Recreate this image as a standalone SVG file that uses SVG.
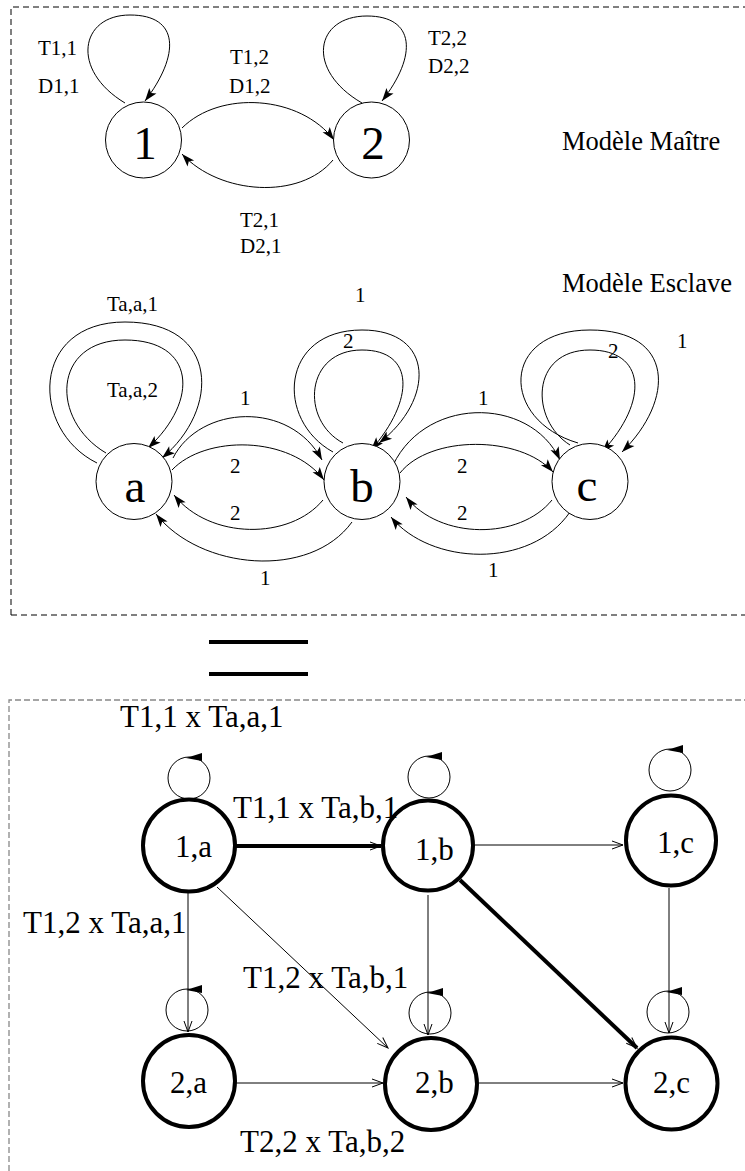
<svg xmlns="http://www.w3.org/2000/svg" width="745" height="1171" viewBox="0 0 745 1171">
<style>
text{font-family:"Liberation Serif","Times New Roman",serif;fill:#000}
.s{font-size:21px}
.m{font-size:26.5px}
.big{font-size:47px;text-anchor:middle}
.p{font-size:31px}
.node{fill:#fff;stroke:#000;stroke-width:1}
.pnode{fill:#fff;stroke:#000;stroke-width:4}
.loop{fill:none;stroke:#000;stroke-width:1}
.e{fill:none;stroke:#000;stroke-width:1;marker-end:url(#ah)}
.pe{fill:none;stroke:#000;stroke-width:1;marker-end:url(#oh)}
.pt{fill:none;stroke:#000;stroke-width:4;marker-end:url(#oh)}
</style>
<defs>
<marker id="ah" markerUnits="userSpaceOnUse" markerWidth="14" markerHeight="10" refX="13" refY="4.5" orient="auto" overflow="visible">
<path d="M0,0 L13,4.5 L0,9 L3,4.5 z" fill="#000"/>
</marker>
<marker id="oh" markerUnits="userSpaceOnUse" markerWidth="12" markerHeight="10" refX="11" refY="4" orient="auto" overflow="visible">
<path d="M0,0 L11,4 L0,8" fill="none" stroke="#000" stroke-width="1"/>
</marker>
<path id="flag" d="M-3,1 L13,-4 L13,4 z" fill="#000"/>
</defs>
<rect width="745" height="1171" fill="#fff"/>

<g id="frames">
<path d="M11,615 L11,7 L745,7 M11,615 L745,615" fill="none" stroke="#000" stroke-width="1" stroke-dasharray="6,4"/>
<path d="M9,1171 L9,700 L745,700" fill="none" stroke="#888" stroke-width="1.3" stroke-dasharray="6,3"/>
</g>

<g id="equals">
<line x1="209" y1="642" x2="308" y2="642" stroke="#000" stroke-width="4"/>
<line x1="209" y1="674" x2="308" y2="674" stroke="#000" stroke-width="4"/>
</g>

<g id="titles">
<text class="m" x="562" y="150">Modèle Maître</text>
<text class="m" x="562" y="292">Modèle Esclave</text>
</g>

<!-- Master model -->
<g id="connectors-master">
<path class="e" d="M125,103 C70,70 80,15 130,15 C180,15 180,55 145,101"/>
<path class="e" d="M362,103 C305,70 315,16 367,16 C415,16 418,55 382,101"/>
<path class="e" d="M182,128 C220,90 300,95 334,140"/>
<path class="e" d="M333,160 C300,200 220,195 182,154"/>
</g>
<g id="m-node-1"><circle class="node" cx="143.5" cy="140" r="38"/><text class="big" x="145" y="159">1</text></g>
<g id="m-node-2"><circle class="node" cx="371.5" cy="140" r="38"/><text class="big" x="373" y="159">2</text></g>
<g id="labels-master">
<text class="s" x="38" y="55">T1,1</text>
<text class="s" x="38" y="93">D1,1</text>
<text class="s" x="230" y="64">T1,2</text>
<text class="s" x="229" y="93">D1,2</text>
<text class="s" x="240" y="227">T2,1</text>
<text class="s" x="240" y="253">D2,1</text>
<text class="s" x="428" y="45">T2,2</text>
<text class="s" x="428" y="73">D2,2</text>
</g>

<!-- Slave model -->
<g id="connectors-slave">
<path class="e" d="M97,463 C30,430 30,322 125,322 C220,322 220,410 162,458"/>
<path class="e" d="M106,453 C50,420 52,340 125,340 C195,340 200,400 148,448"/>
<path class="e" d="M173,458 C200,405 290,400 322,460"/>
<path class="e" d="M172,470 C205,435 290,435 324,480"/>
<path class="e" d="M323,500 C290,540 210,540 174,495"/>
<path class="e" d="M352,522 C310,580 200,570 156,514"/>
<path class="e" d="M333,452 C275,420 280,330 362,330 C435,330 435,400 379,443"/>
<path class="e" d="M343,443 C300,420 305,350 362,350 C415,350 415,400 371,450"/>
<path class="e" d="M390,472 C420,395 530,395 560,460"/>
<path class="e" d="M400,473 C430,435 520,435 553,472"/>
<path class="e" d="M552,500 C520,540 440,540 406,497"/>
<path class="e" d="M570,512 C530,570 430,565 391,517"/>
<path class="e" d="M578,443 C500,420 500,330 590,330 C675,330 675,400 622,452"/>
<path class="e" d="M570,445 C530,420 530,350 590,350 C645,350 650,400 602,452"/>
</g>
<g id="s-node-a"><circle class="node" cx="134" cy="481.5" r="38"/><text class="big" x="135" y="502">a</text></g>
<g id="s-node-b"><circle class="node" cx="362" cy="481.5" r="38"/><text class="big" x="362" y="502">b</text></g>
<g id="s-node-c"><circle class="node" cx="590" cy="481.5" r="38"/><text class="big" x="587" y="501">c</text></g>
<g id="labels-slave">
<text class="s" x="107" y="311">Ta,a,1</text>
<text class="s" x="107" y="397">Ta,a,2</text>
<text class="s" x="240" y="405">1</text>
<text class="s" x="230" y="473">2</text>
<text class="s" x="230" y="520">2</text>
<text class="s" x="260" y="585">1</text>
<text class="s" x="355" y="302">1</text>
<text class="s" x="343" y="348">2</text>
<text class="s" x="478" y="405">1</text>
<text class="s" x="457" y="473">2</text>
<text class="s" x="457" y="520">2</text>
<text class="s" x="488" y="577">1</text>
<text class="s" x="608" y="358">2</text>
<text class="s" x="677" y="348">1</text>
</g>

<!-- Product model -->
<g id="connectors-product">
<line class="pt" x1="235" y1="846" x2="381" y2="846"/>
<line class="pe" x1="475" y1="845" x2="623" y2="845"/>
<line class="pe" x1="188" y1="893" x2="188" y2="1032"/>
<line class="pe" x1="217" y1="887" x2="388" y2="1048"/>
<line class="pe" x1="428" y1="895" x2="428" y2="1035"/>
<line class="pt" x1="460" y1="880" x2="637" y2="1048"/>
<line class="pe" x1="669" y1="888" x2="669" y2="1033"/>
<line class="pe" x1="235" y1="1083" x2="383" y2="1083"/>
<line class="pe" x1="477" y1="1083" x2="623" y2="1083"/>
<circle class="loop" cx="189" cy="778" r="21"/><use href="#flag" x="189" y="757"/>
<circle class="loop" cx="429" cy="777" r="21"/><use href="#flag" x="429" y="756"/>
<circle class="loop" cx="670" cy="770" r="21"/><use href="#flag" x="670" y="749"/>
<circle class="loop" cx="187" cy="1010" r="21"/><use href="#flag" x="189" y="989"/>
<circle class="loop" cx="430" cy="1013" r="21"/><use href="#flag" x="430" y="992"/>
<circle class="loop" cx="668" cy="1012" r="21"/><use href="#flag" x="669" y="991"/>
</g>
<g id="p-node-1a"><circle class="pnode" cx="189" cy="845.5" r="46"/><text class="p" x="175" y="857">1,a</text></g>
<g id="p-node-1b"><circle class="pnode" cx="428" cy="845.5" r="45"/><text class="p" x="415" y="860">1,b</text></g>
<g id="p-node-1c"><circle class="pnode" cx="671" cy="840.5" r="45"/><text class="p" x="657" y="853">1,c</text></g>
<g id="p-node-2a"><circle class="pnode" cx="189" cy="1081" r="46"/><text class="p" x="170" y="1093">2,a</text></g>
<g id="p-node-2b"><circle class="pnode" cx="431" cy="1084" r="46"/><text class="p" x="415" y="1093">2,b</text></g>
<g id="p-node-2c"><circle class="pnode" cx="671.5" cy="1083.5" r="46"/><text class="p" x="653" y="1093">2,c</text></g>
<g id="labels-product">
<text class="p" x="120" y="727">T1,1 x Ta,a,1</text>
<text class="p" x="233" y="818">T1,1 x Ta,b,1</text>
<text class="p" x="23" y="933">T1,2 x Ta,a,1</text>
<text class="p" x="243" y="988">T1,2 x Ta,b,1</text>
<text class="p" x="240" y="1152">T2,2 x Ta,b,2</text>
</g>
</svg>
